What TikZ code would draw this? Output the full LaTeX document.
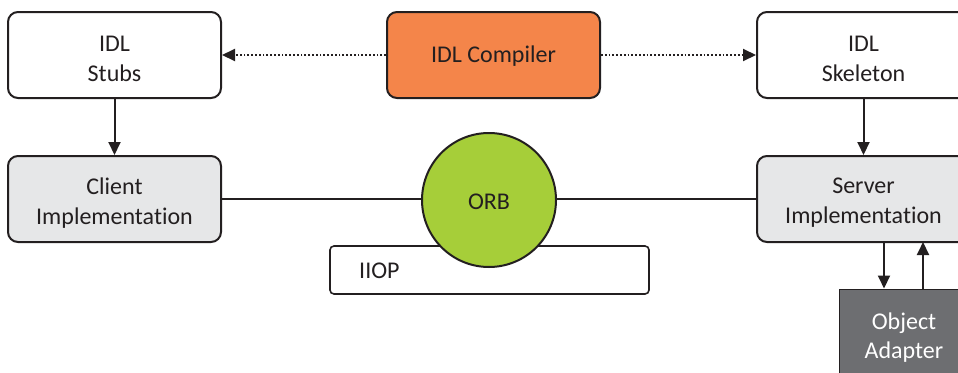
\documentclass[tikz,border=0pt]{standalone}
\usepackage{fontspec}
\setmainfont[Ligatures=NoCommon]{Carlito}
\usetikzlibrary{arrows.meta}
\definecolor{txt}{HTML}{231F20}
\definecolor{compfill}{HTML}{F4854A}
\definecolor{orbfill}{HTML}{A6CE39}
\definecolor{implfill}{HTML}{E6E7E8}
\definecolor{adaptfill}{HTML}{6D6E71}
\tikzset{
  lbl/.style={text=txt, font=\fontsize{24}{30}\selectfont, align=center, inner sep=0pt},
  box/.style={draw=txt, line width=2pt, rounded corners=10pt, minimum width=213pt,
    minimum height=86pt, inner sep=0pt},
  conn/.style={draw=txt, line width=2pt},
  tip/.style={-{Triangle[length=13pt,width=12pt]}},
  dots/.style={conn, line width=2pt, dash pattern=on 1.8pt off 2pt},
}
\begin{document}
\begin{tikzpicture}[x=1pt,y=-1pt]
\useasboundingbox (0,0) rectangle (958,372);
\clip (0,0) rectangle (958,372);
% top row
\node[box, fill=white] (stubs) at (114.5,55) {};
\node[lbl] (stubstxt) at ([yshift=-4pt]stubs.center) {IDL\\Stubs};
\node[box, fill=compfill] (comp) at (493.5,55) {};
\node[lbl] (comptxt) at ([yshift=-1pt]comp.center) {IDL Compiler};
\node[box, fill=white] (skel) at (863.5,55) {};
\node[lbl] (skeltxt) at ([yshift=-4pt]skel.center) {IDL\\Skeleton};
% middle row
\node[box, fill=implfill] (client) at (114.5,199) {};
\node[lbl] (clienttxt) at ([yshift=-4pt]client.center) {Client\\Implementation};
\node[box, fill=implfill] (server) at (863.5,199) {};
\node[lbl] (servertxt) at ([yshift=-4pt]server.center) {Server\\Implementation};
% protocol bar under the broker
\node[draw=txt, line width=1.6pt, rounded corners=4pt, minimum width=319pt, minimum height=48pt,
  fill=white, inner sep=0pt] (iiop) at (489.5,270) {};
\node[lbl, anchor=west] (iioplbl) at (359,271) {IIOP};
% object request broker
\node[circle, draw=txt, line width=2pt, fill=orbfill, minimum size=134pt, inner sep=0pt]
  (orb) at (489,200) {};
\node[lbl] (orbtxt) at ([yshift=-2pt]orb.center) {ORB};
% object adapter
\node[fill=adaptfill, draw=txt, line width=1pt, minimum width=130pt, minimum height=96pt,
  inner sep=0pt] (adapter) at (904,337) {};
\node[lbl, text=white, font=\fontsize{24}{29}\selectfont] (adaptertxt) at ([yshift=-1pt]adapter.center) {Object\\Adapter};
% connectors
\draw[dots, tip] (comp.west) -- (stubs.east);
\draw[dots, tip] (comp.east) -- (skel.west);
\draw[conn, tip] (stubs.south) -- (client.north);
\draw[conn, tip] (skel.south) -- (server.north);
\draw[conn] (client.east) -- (orb.west |- client.east);
\draw[conn] (orb.east |- server.west) -- (server.west);
\coordinate (downtop) at (884,242);
\coordinate (uptop) at (923,242);
\draw[conn, tip] (downtop) -- (downtop |- adapter.north);
\draw[conn, tip] (uptop |- adapter.north) -- (uptop);
\end{tikzpicture}
\end{document}
